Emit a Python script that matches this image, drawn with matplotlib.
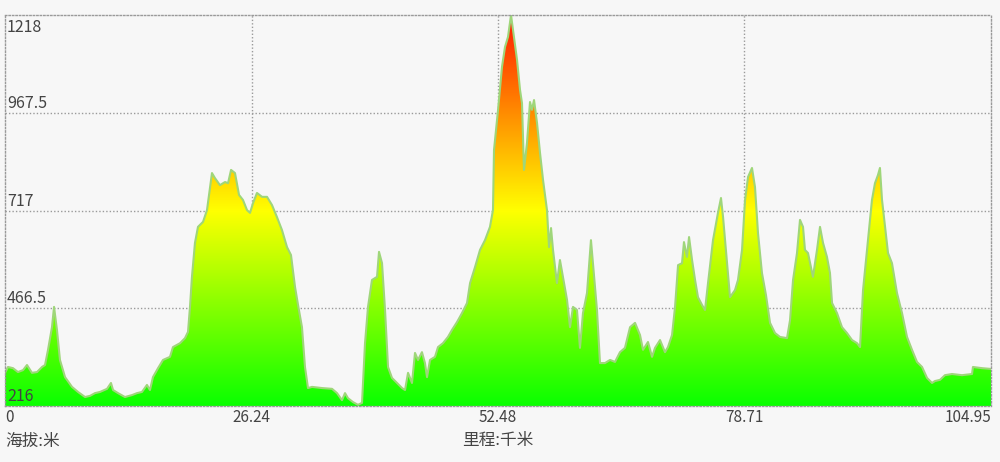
import numpy as np
import matplotlib
matplotlib.use("Agg")
import matplotlib.pyplot as plt
from matplotlib.colors import LinearSegmentedColormap
from matplotlib.patches import Polygon

plt.rcParams['font.family'] = ['Noto Sans CJK SC', 'DejaVu Sans']

# distance (km) and elevation (m)
distance_km = [0.00, 0.32, 0.85, 1.38, 1.92, 2.34, 2.87, 3.41, 3.94, 4.26, 4.58, 5.00, 5.22, 5.53, 5.85,
               6.39, 7.13, 7.77, 8.52, 9.05, 9.58, 10.11, 10.86, 11.28, 11.50, 12.03, 12.77, 13.52, 14.05,
               14.58, 15.11, 15.43, 15.75, 16.29, 16.82, 17.56, 17.88, 18.63, 19.16, 19.48, 19.69, 19.90,
               20.22, 20.54, 21.08, 21.50, 22.03, 22.35, 22.88, 23.42, 23.74, 24.06, 24.48, 24.91, 25.33,
               25.76, 26.08, 26.40, 26.82, 27.36, 27.89, 28.42, 28.95, 29.48, 30.02, 30.44, 30.87, 31.19,
               31.61, 31.93, 32.25, 32.68, 33.74, 34.81, 35.34, 35.87, 36.19, 36.51, 37.04, 37.57, 38.00,
               38.32, 38.64, 39.06, 39.60, 39.81, 40.13, 40.45, 40.77, 41.19, 41.72, 42.26, 42.58, 42.90,
               43.32, 43.64, 43.96, 44.38, 44.70, 44.92, 45.24, 45.77, 46.09, 46.62, 47.15, 47.58, 48.11,
               48.64, 49.18, 49.50, 50.03, 50.56, 51.09, 51.62, 51.94, 52.05, 52.37, 52.48, 52.90, 53.22,
               53.54, 53.86, 54.07, 54.50, 54.82, 55.03, 55.24, 55.56, 55.88, 56.09, 56.31, 56.63, 56.95,
               57.27, 57.69, 57.91, 58.12, 58.33, 58.75, 59.07, 59.39, 59.82, 60.14, 60.46, 60.88, 61.20,
               61.52, 61.95, 62.37, 62.58, 63.01, 63.33, 63.86, 64.40, 64.93, 65.46, 65.99, 66.53, 67.06,
               67.59, 67.91, 68.44, 68.87, 69.19, 69.72, 70.25, 70.57, 71.00, 71.32, 71.64, 72.06, 72.27,
               72.59, 72.81, 73.13, 73.45, 73.76, 74.19, 74.51, 74.83, 75.36, 75.89, 76.21, 76.43, 76.85,
               77.17, 77.70, 78.02, 78.45, 78.77, 79.09, 79.51, 79.83, 80.15, 80.57, 81.00, 81.43, 81.96,
               82.49, 83.24, 83.56, 83.88, 84.30, 84.62, 84.94, 85.15, 85.47, 86.00, 86.43, 86.75, 87.07,
               87.49, 87.81, 88.03, 88.56, 89.09, 89.62, 90.16, 90.69, 91.01, 91.33, 91.75, 92.28, 92.60,
               92.92, 93.13, 93.35, 93.67, 93.99, 94.41, 94.94, 95.48, 96.01, 96.54, 97.07, 97.61, 98.14,
               98.67, 98.99, 99.52, 100.05, 100.80, 101.86, 102.93, 103.03, 103.99, 104.84, 104.95]

elevation_m = [301, 316, 313, 303, 308, 321, 301, 303, 316, 321, 360, 418, 470, 411, 334,
               290, 265, 252, 239, 242, 249, 252, 260, 275, 257, 249, 239, 244, 249,
               252, 270, 257, 290, 313, 334, 342, 367, 377, 390, 406, 470, 547,
               634, 675, 688, 718, 813, 800, 782, 790, 787, 821, 813, 757, 744,
               718, 711, 736, 762, 752, 752, 731, 700, 667, 623, 603, 521, 475,
               418, 316, 262, 265, 262, 260, 249, 231, 249, 236, 226, 219, 224,
               377, 470, 539, 547, 611, 582, 462, 316, 288, 275, 262, 257, 301,
               275, 352, 334, 354, 326, 290, 334, 342, 367, 377, 393, 411, 431,
               454, 480, 531, 572, 616, 641, 675, 718, 872, 949, 975, 1085, 1136,
               1162, 1218, 1180, 1103, 1026, 992, 821, 890, 995, 975, 1000, 941, 864,
               795, 718, 623, 672, 616, 531, 590, 547, 488, 418, 470, 462, 365,
               454, 506, 641, 582, 462, 326, 326, 334, 329, 354, 365, 418, 429,
               398, 360, 380, 342, 365, 385, 354, 367, 398, 470, 577, 582, 636,
               598, 649, 590, 539, 495, 475, 462, 531, 641, 711, 749, 700, 582,
               495, 513, 539, 616, 744, 803, 826, 777, 659, 557, 500, 429, 403,
               393, 390, 436, 539, 608, 693, 675, 616, 608, 547, 616, 675, 634,
               598, 557, 480, 454, 418, 403, 385, 377, 367, 513, 616, 744, 787,
               808, 826, 744, 675, 608, 582, 506, 454, 393, 360, 329, 316, 288,
               275, 280, 283, 295, 298, 295, 298, 316, 313, 311, 311]

x_ticks = [0, 26.24, 52.48, 78.71, 104.95]
x_tick_labels = ["0", "26.24", "52.48", "78.71", "104.95"]
y_ticks = [216, 466.5, 717, 967.5, 1218]
y_tick_labels = ["216", "466.5", "717", "967.5", "1218"]
y_axis_title = "海拔:米"
x_axis_title = "里程:千米"

bg = "#f7f7f7"
fig = plt.figure(figsize=(10, 4.62), dpi=100, facecolor=bg)
ax = fig.add_axes([0.005, 0.1212, 0.986, 0.8463])
ax.set_facecolor(bg)

xmin, xmax = x_ticks[0], x_ticks[-1]
ymin, ymax = y_ticks[0], y_ticks[-1]
ax.set_xlim(xmin, xmax)
ax.set_ylim(ymin, ymax)

cmap = LinearSegmentedColormap.from_list("elev", ["#0aff00", "#ffff00", "#ff1a00"])
grad = np.linspace(0, 1, 512).reshape(-1, 1)
im = ax.imshow(grad, cmap=cmap, origin="lower", aspect="auto",
               extent=[xmin, xmax, ymin, ymax], zorder=2)
xs = np.array(distance_km)
ys = np.array(elevation_m, dtype=float)
verts = np.column_stack([np.r_[xs[0], xs, xs[-1]], np.r_[ymin, ys, ymin]])
poly = Polygon(verts, closed=True, facecolor="none", edgecolor="none", transform=ax.transData)
ax.add_patch(poly)
im.set_clip_path(poly)
ax.plot(xs, ys, color="#9fd67a", lw=1.5, zorder=3)

grid_kw = dict(color="#9a9a9a", lw=1.0, linestyle=(0, (1, 1.5)), zorder=1)
for xv in x_ticks[1:-1]:
    ax.axvline(xv, **grid_kw)
for yv in y_ticks[1:-1]:
    ax.axhline(yv, **grid_kw)
for s in ax.spines.values():
    s.set_color("#9a9a9a")
    s.set_linestyle((0, (1, 1.5)))
    s.set_linewidth(1.0)
    s.set_zorder(4)
ax.set_xticks([])
ax.set_yticks([])

txt_color = "#444444"
for yv, lab in zip(y_ticks, y_tick_labels):
    if yv == ymax:
        ax.annotate(lab, xy=(0, yv), xycoords=("axes fraction", "data"), xytext=(2, -4),
                    textcoords="offset pixels", ha="left", va="top", fontsize=11.5, color=txt_color, zorder=5)
    else:
        ax.annotate(lab, xy=(0, yv), xycoords=("axes fraction", "data"), xytext=(2, 1),
                    textcoords="offset pixels", ha="left", va="bottom", fontsize=11.5, color=txt_color, zorder=5)

for i, (xv, lab) in enumerate(zip(x_ticks, x_tick_labels)):
    ha = "left" if i == 0 else ("right" if i == len(x_ticks) - 1 else "center")
    ax.annotate(lab, xy=(xv, 0), xycoords=("data", "axes fraction"), xytext=(0, -3),
                textcoords="offset pixels", ha=ha, va="top", fontsize=11, color=txt_color)

fig.text(0.005, 462 - 441, y_axis_title, transform=None, ha="left", va="center", fontsize=12, color=txt_color)
fig.text(0.498, (462 - 441) / 462, x_axis_title, ha="center", va="center", fontsize=12, color=txt_color)
fig.texts[0].set_position((5, 462 - 441))

fig.savefig("out.png", dpi=100, facecolor=bg)
